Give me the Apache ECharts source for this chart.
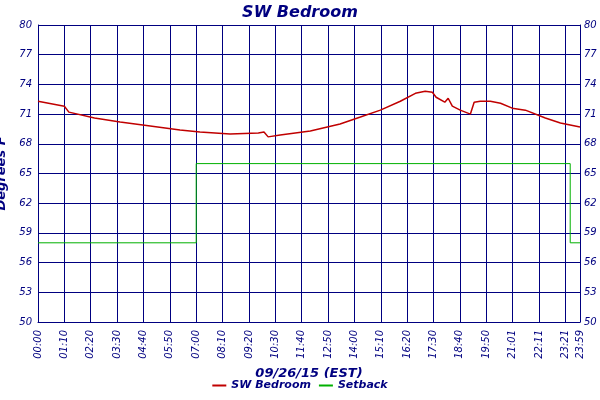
<!DOCTYPE html>
<html><head><meta charset="utf-8">
<script src="https://cdn.jsdelivr.net/npm/echarts@6/dist/echarts.min.js"></script>
<style>html,body{margin:0;padding:0;background:#fff}#c{width:600px;height:400px}</style>
</head><body><div id="c"></div>
<script>
const tickLabels = ['00:00','01:10','02:20','03:30','04:40','05:50','07:00','08:10','09:20','10:30','11:40','12:50','14:00','15:10','16:20','17:30','18:40','19:50','21:01','22:11','23:21'];
const tempMinutes = [0,70,82,150,218,298,377,430,510,585,600,611,643,723,802,856,909,962,1002,1028,1047,1057,1080,1089,1100,1121,1148,1153,1158,1174,1201,1228,1259,1294,1347,1387,1439];
const tempValues = [72.3,71.8,71.2,70.6,70.2,69.8,69.4,69.2,69.0,69.1,69.2,68.7,68.9,69.3,70.0,70.7,71.4,72.3,73.1,73.3,73.2,72.7,72.2,72.6,71.8,71.4,71.0,71.2,72.2,72.3,72.3,72.1,71.6,71.4,70.6,70.1,69.7];
const setbackMinutes = [0,420,420,1413,1413,1439];
const setbackValues = [58,58,66,66,58,58];
const navy = '#000080';
const font = {fontFamily:'DejaVu Sans', fontStyle:'italic', color:navy};
const chart = echarts.init(document.getElementById('c'));
chart.setOption({
  animation:false,
  title:{text:'SW Bedroom', left:'center', top:0, textStyle:Object.assign({fontSize:16,fontWeight:'bold'},font)},
  legend:{bottom:4, itemWidth:14, itemHeight:2, textStyle:Object.assign({fontSize:11,fontWeight:'bold'},font),
    data:[{name:'SW Bedroom',icon:'rect'},{name:'Setback',icon:'rect'}]},
  grid:{left:38, right:20, top:25, bottom:78, containLabel:false, outerBoundsMode:'none'},
  xAxis:{type:'value', min:0, max:1439, interval:70,
    name:'09/26/15 (EST)', nameLocation:'middle', nameGap:44,
    nameTextStyle:Object.assign({fontSize:13,fontWeight:'bold'},font),
    axisLine:{lineStyle:{color:navy}}, axisTick:{show:false},
    splitLine:{show:true, lineStyle:{color:navy, width:1}},
    axisLabel:Object.assign({fontSize:10, rotate:90, showMaxLabel:true,
      formatter:v=>{ if(v>=1439) return '23:59'; const i=Math.round(v/70); return tickLabels[i]||''; }},font)},
  yAxis:[{type:'value', min:50, max:80, interval:3,
    name:'Degrees F', nameLocation:'middle', nameGap:24,
    nameTextStyle:Object.assign({fontSize:13,fontWeight:'bold'},font),
    axisLine:{show:true,lineStyle:{color:navy}}, axisTick:{show:false},
    splitLine:{show:true, lineStyle:{color:navy, width:1}},
    axisLabel:Object.assign({fontSize:10, margin:6},font)},
    {type:'value', min:50, max:80, interval:3, position:'right',
    axisLine:{show:true,lineStyle:{color:navy}}, axisTick:{show:false}, splitLine:{show:false},
    axisLabel:Object.assign({fontSize:10, margin:4},font)}],
  series:[
    {name:'SW Bedroom', type:'line', showSymbol:false, color:'#c00000', lineStyle:{width:1.5},
     data:tempMinutes.map((m,i)=>[m,tempValues[i]])},
    {name:'Setback', type:'line', showSymbol:false, color:'#00b000', lineStyle:{width:1},
     data:setbackMinutes.map((m,i)=>[m,setbackValues[i]])}
  ]
});
</script></body></html>
